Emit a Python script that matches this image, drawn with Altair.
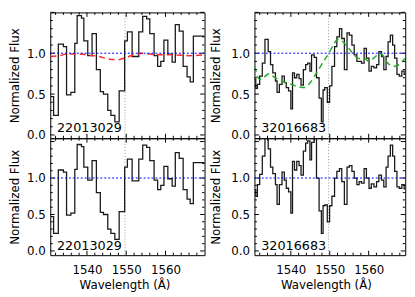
import altair as alt
import pandas as pd

FONT = "DejaVu Sans"

# ---------------- data ----------------
# left column (22013029): bin left edges (last value = right end) and flux
left_edges = [1530.7, 1531.5, 1532.7, 1534.0, 1534.8, 1535.9, 1536.9, 1537.5, 1538.6, 1539.2,
              1540.2, 1541.3, 1542.4, 1543.4, 1544.2, 1545.3, 1546.1, 1547.1, 1548.2, 1549.6,
              1550.3, 1551.5, 1553.2, 1554.2, 1555.2, 1556.0, 1557.1, 1558.0, 1558.8, 1559.6,
              1560.6, 1561.7, 1562.5, 1563.5, 1564.5, 1565.5, 1566.3, 1567.1, 1568.1, 1570.2]
left_flux = [0.47, 0.24, 1.11, 1.08, 0.49, 0.52, 1.12, 1.46, 1.43, 1.15,
             0.97, 1.24, 0.80, 0.53, 0.50, 0.30, 0.24, 0.16, 0.54, 1.15,
             1.26, 0.96, 1.26, 1.45, 1.42, 1.24, 0.97, 0.84, 0.90, 1.16,
             0.99, 0.89, 1.35, 1.27, 0.84, 0.71, 0.65, 1.21, 1.21]

# red dashed continuum (top-left)
red_w = [1530.7, 1533.0, 1535.0, 1538.0, 1540.0, 1543.0, 1545.5, 1548.0, 1550.0,
         1552.0, 1554.0, 1558.0, 1562.0, 1566.0, 1570.0]
red_v = [0.96, 0.97, 0.99, 0.99, 0.98, 0.96, 0.93, 0.92, 0.95,
         0.98, 1.00, 0.98, 0.98, 0.97, 0.98]

# right column (32016683)
right_edges = [1530.55, 1530.97, 1531.40, 1531.99, 1532.66, 1533.34, 1534.18, 1534.77, 1535.36, 1536.04,
               1536.46, 1537.05, 1537.73, 1538.32, 1538.82, 1539.41, 1540.00, 1540.43, 1540.93, 1541.52,
               1542.11, 1542.62, 1543.21, 1543.80, 1544.31, 1544.90, 1545.32, 1546.00, 1546.59, 1547.26,
               1547.85, 1548.28, 1548.70, 1549.37, 1549.96, 1550.55, 1551.23, 1551.82, 1552.50, 1553.09,
               1553.76, 1554.44, 1555.03, 1555.70, 1556.29, 1556.97, 1557.56, 1558.15, 1558.83, 1559.42,
               1560.09, 1560.68, 1561.36, 1562.03, 1562.62, 1563.30, 1563.89, 1564.48, 1564.99, 1565.58,
               1566.17, 1566.68, 1567.27, 1567.86, 1568.53, 1569.12, 1569.80]
top_right_flux = [0.68, 0.57, 0.62, 0.72, 0.88, 1.17, 1.02, 0.86, 0.76, 0.66,
                  0.52, 0.62, 0.72, 0.64, 0.58, 0.54, 0.32, 0.76, 0.70, 0.74,
                  0.69, 0.61, 0.80, 0.86, 0.88, 0.78, 0.98, 0.95, 0.70, 0.45,
                  0.16, 0.55, 0.58, 0.40, 0.60, 0.84, 1.08, 1.20, 1.30, 1.18,
                  0.80, 1.25, 1.22, 1.10, 0.98, 0.90, 0.90, 0.88, 1.06, 0.94,
                  0.78, 0.84, 0.82, 0.86, 1.02, 0.96, 0.80, 0.96, 1.14, 1.22,
                  1.10, 0.94, 0.74, 0.72, 0.78, 0.74]
bottom_right_flux = [0.84, 0.75, 0.91, 1.05, 1.30, 1.65, 1.40, 1.15, 1.06, 0.91,
                     0.64, 0.91, 1.08, 0.97, 0.86, 0.81, 0.52, 1.23, 1.11, 1.23,
                     1.17, 1.04, 1.37, 1.48, 1.51, 1.25, 1.49, 1.62, 1.00, 0.55,
                     0.24, 0.62, 0.63, 0.40, 0.62, 0.75, 1.00, 1.09, 1.13, 0.95,
                     0.64, 1.15, 1.17, 1.09, 1.00, 0.91, 0.95, 0.93, 1.13, 1.00,
                     0.86, 0.92, 0.88, 0.95, 1.04, 0.97, 0.88, 1.15, 1.30, 1.45,
                     1.30, 1.09, 0.88, 0.86, 0.91, 0.85]

# green dashed continuum (top-right)
green_w = [1530.7, 1531.4, 1531.9, 1532.9, 1534.4, 1535.9, 1537.7, 1539.5, 1542.0, 1543.5,
           1544.8, 1546.6, 1548.4, 1550.0, 1550.9, 1552.2, 1554.2, 1555.9, 1557.2, 1559.2,
           1560.0, 1561.3, 1563.0, 1565.1, 1566.8, 1569.4]
green_v = [0.84, 0.72, 0.68, 0.70, 0.75, 0.70, 0.66, 0.63, 0.59, 0.58,
           0.63, 0.76, 0.90, 1.02, 1.10, 1.17, 1.10, 1.00, 0.94, 0.93,
           0.90, 0.94, 1.00, 0.87, 0.84, 0.94]

labels = ["22013029", "32016683"]
line_center = 1549.7
unity = [1.0]
y_major = [0.0, 0.5, 1.0, 1.5]
y_minor = [0.1, 0.2, 0.3, 0.4, 0.6, 0.7, 0.8, 0.9, 1.1, 1.2, 1.3, 1.4]
x_major = [1540, 1550, 1560]
x_minor = [1532, 1534, 1536, 1538, 1542, 1544, 1546, 1548, 1552, 1554, 1556, 1558,
           1562, 1564, 1566, 1568]
y_tick_labels = [0.0, 0.5, 1.0]
x_tick_labels = [1540, 1550, 1560]


def panel(edges, flux, xdom, ydom, W, H, label, label_y, ytitle_pad,
          cont_w=None, cont_v=None, cont_color=None, show_x=False, title_x=None):
    xs = alt.Scale(domain=xdom, nice=False, zero=False)
    ys = alt.Scale(domain=ydom, nice=False, zero=False)
    yaxis = alt.Axis(values=y_tick_labels, format=".1f", title="Normalized Flux",
                     ticks=False, domain=False, grid=False, labelPadding=5,
                     minExtent=26, maxExtent=26, titlePadding=ytitle_pad)
    if show_x:
        xaxis = alt.Axis(values=x_tick_labels, format="d", title="Wavelength (Å)",
                         ticks=False, domain=False, grid=False, labelPadding=10,
                         minExtent=22, maxExtent=22, titlePadding=3, titleX=title_x)
    else:
        xaxis = None

    def X(field):
        return alt.X(field, scale=xs, axis=xaxis)

    def Y(field):
        return alt.Y(field, scale=ys, axis=yaxis)

    df = pd.DataFrame({"w": edges, "f": list(flux) + [flux[-1]]})
    layers = []
    layers.append(alt.Chart(pd.DataFrame({"w": [line_center]})).mark_rule(
        color="#999999", strokeWidth=1, strokeDash=[1, 2]).encode(x=X("w:Q")))
    layers.append(alt.Chart(df).mark_line(interpolate="step-after", clip=True,
                                          color="#1a1a1a", strokeWidth=1.3).encode(
        x=X("w:Q"), y=Y("f:Q")))
    if cont_w is not None:
        layers.append(alt.Chart(pd.DataFrame({"w": cont_w, "f": cont_v})).mark_line(
            interpolate="monotone", clip=True, color=cont_color, strokeWidth=1.5,
            strokeDash=[6, 4]).encode(x=X("w:Q"), y=Y("f:Q")))
    layers.append(alt.Chart(pd.DataFrame({"t": [label]})).mark_text(
        align="left", baseline="alphabetic", font=FONT, fontSize=13, color="black").encode(
        text="t:N", x=alt.value(6.8), y=alt.value(label_y)))
    # inner ticks on all four sides
    for vals, L in ((y_major, 4.5), (y_minor, 2.5)):
        d = pd.DataFrame({"f": vals})
        layers.append(alt.Chart(d).mark_rule(color="black", strokeWidth=1).encode(
            y=Y("f:Q"), x=alt.value(0), x2=alt.value(L)))
        layers.append(alt.Chart(d).mark_rule(color="black", strokeWidth=1).encode(
            y=Y("f:Q"), x=alt.value(W), x2=alt.value(W - L)))
    for vals, L in ((x_major, 4.5), (x_minor, 2.5)):
        d = pd.DataFrame({"w": vals})
        layers.append(alt.Chart(d).mark_rule(color="black", strokeWidth=1).encode(
            x=X("w:Q"), y=alt.value(0), y2=alt.value(L)))
        layers.append(alt.Chart(d).mark_rule(color="black", strokeWidth=1).encode(
            x=X("w:Q"), y=alt.value(H), y2=alt.value(H - L)))
    # blue dotted unity line drawn last
    layers.append(alt.Chart(pd.DataFrame({"unity": unity})).mark_rule(
        color="#0000ff", strokeWidth=1, strokeDash=[2, 2]).encode(
        y=alt.Y("unity:Q", scale=ys, axis=yaxis)))
    return alt.layer(*layers).properties(width=W, height=H)


LW, RW = 157, 153.4
TH, BH = 128, 119
left_x = [1530.65, 1569.95]
right_x = [1530.65, 1569.4]
top_y = [-0.04, 1.499]
bot_y = [-0.058, 1.546]

tl = panel(left_edges, left_flux, left_x, top_y, LW, TH, labels[0], TH - 6, 3.5,
           red_w, red_v, "#ff2a2a")
tr = panel(right_edges, top_right_flux, right_x, top_y, RW, TH, labels[1], TH - 6, 7,
           green_w, green_v, "#22aa22")
bl = panel(left_edges, left_flux, left_x, bot_y, LW, BH, labels[0], BH - 5, 3.5,
           show_x=True, title_x=75.5)
br = panel(right_edges, bottom_right_flux, right_x, bot_y, RW, BH, labels[1], BH - 5, 7,
           show_x=True, title_x=72.7)

chart = alt.concat(tl, tr, bl, br, columns=2,
                   spacing={"row": 0, "column": 50.8}, bounds="flush").properties(
    padding=0
).configure_view(stroke="black", strokeWidth=1).configure_axis(
    labelFont=FONT, titleFont=FONT, labelFontSize=12, titleFontSize=12,
    titleFontWeight="normal", labelColor="black", titleColor="black")

chart.save("out.html", embed_options={"renderer": "svg", "actions": False})
